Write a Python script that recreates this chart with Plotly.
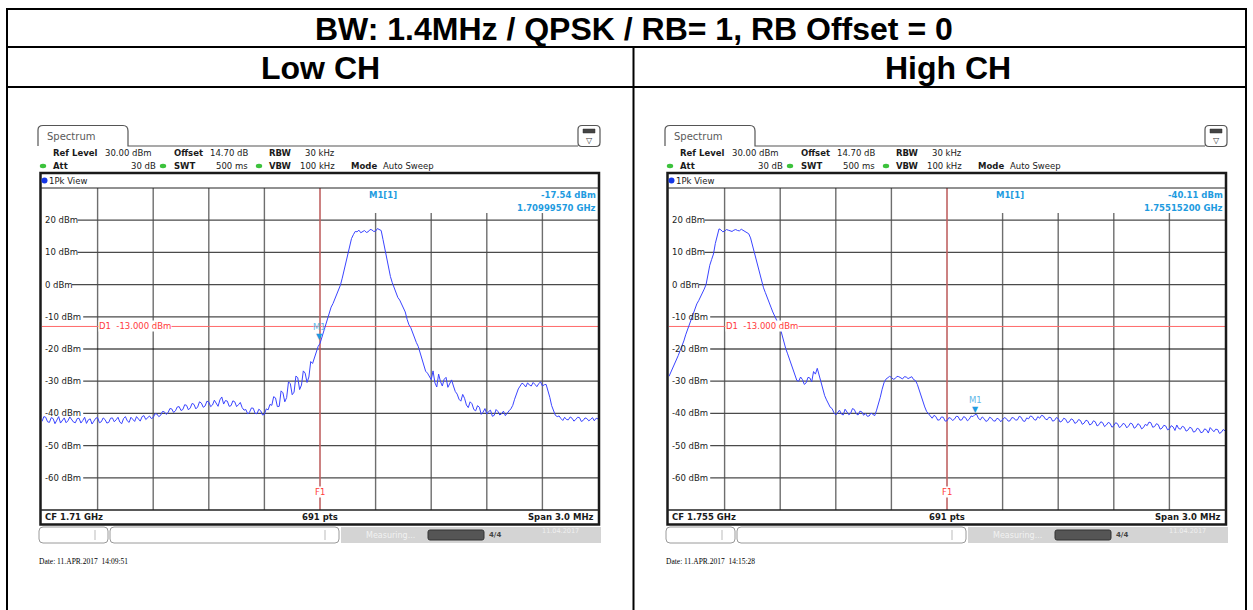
import numpy as np
import plotly.graph_objects as go

W, H = 1253, 610

# ---------------- data ----------------
table_title = "BW: 1.4MHz / QPSK / RB= 1, RB Offset = 0"
channel_titles = ["Low CH", "High CH"]

start_mhz = [1708.5, 1753.5]
stop_mhz = [1711.5, 1756.5]
top_level_dbm = 30
bottom_level_dbm = -70

low_dbm = [
    -42.5, -41.0, -41.2, -42.6, -42.8, -41.3, -41.6, -43.2, -42.1, -41.0,
    -43.0, -42.2, -41.4, -42.9, -42.3, -41.1, -41.8, -42.7, -42.9, -41.6,
    -41.5, -43.0, -42.2, -41.2, -43.1, -42.0, -41.7, -43.3, -42.4, -41.5,
    -41.3, -42.9, -42.6, -41.4, -41.9, -43.0, -42.8, -41.5, -41.4, -42.6,
    -42.0, -41.2, -42.7, -43.2, -41.6, -41.0, -42.3, -42.8, -41.2, -41.7,
    -42.5, -41.0, -41.8, -42.4, -41.0, -40.7, -41.9, -41.2,
    -40.8, -41.6, -41.3, -40.1, -40.2, -41.0, -40.6, -39.4, -39.5, -40.3,
    -39.8, -38.5, -38.6, -39.7, -39.2, -38.0, -37.9, -39.1, -38.8, -37.3,
    -37.5, -38.9, -38.3, -36.9, -37.2, -38.6, -38.0, -36.4, -36.8, -38.1,
    -37.7, -36.2, -36.5, -37.9, -37.4, -35.9, -36.9, -37.8,
    -35.8, -34.9, -37.1, -36.0, -36.2, -37.8, -37.6, -36.1, -36.4, -37.9,
    -37.3, -36.6, -38.2, -39.0,
    -38.8, -40.2, -39.6, -38.3, -38.4, -40.0, -40.1, -38.7, -39.2, -40.5,
    -40.3, -38.6, -38.9, -37.2,
    -37.5, -34.8, -35.2, -37.9, -37.8, -33.0, -33.6, -36.4,
    -35.1, -30.2, -30.8, -34.2, -33.4, -28.4, -28.9, -32.6, -31.2, -26.8,
    -27.5, -30.4, -28.7, -23.9,
    -24.5, -22.8, -21.6, -19.2, -18.3, -16.5,
    -14.5, -12.3, -10.5, -8.6, -7.0, -5.9, -4.5, -3.0, -2.0, -0.2,
    2.0, 4.5, 7.0, 10.0, 12.5, 14.3, 15.5, 16.5, 16.4, 16.9,
    16.1, 16.6, 16.8, 16.2, 16.4, 17.1, 17.0, 16.5, 16.6, 17.4,
    17.2, 16.8,
    14.0, 11.2, 8.0, 5.0, 2.5, 0.6, -1.0, -2.7, -4.0, -4.8,
    -6.0, -7.6, -8.5, -10.8, -12.5, -13.4, -15.0, -16.8, -18.0, -19.2,
    -21.0, -23.4, -25.0, -26.9, -27.5, -28.6, -29.5, -26.8, -30.5, -31.8,
    -27.8, -30.1, -31.5, -29.4, -28.8, -31.9, -30.8, -29.6, -31.5, -33.2,
    -34.0, -35.6, -36.2, -34.1, -35.3, -37.4, -38.2, -36.4, -37.0, -38.8,
    -39.2, -37.6, -38.1, -40.3, -39.6, -38.5, -40.2, -39.4, -39.0, -40.9,
    -40.6, -38.8, -39.4, -40.5, -40.1, -39.3, -40.7, -39.8, -39.2, -38.6,
    -37.5, -35.6, -34.0, -32.4, -31.5, -30.6, -31.0, -31.8, -30.5, -31.2,
    -31.5, -30.4, -31.0, -31.7, -30.8, -30.2, -31.5, -31.1, -31.0, -32.8,
    -35.0, -37.6, -39.5, -40.6, -41.0, -40.8, -41.6, -42.2, -41.2, -41.9,
    -42.0, -41.1, -41.5, -42.4, -41.9, -41.2, -41.3, -42.5, -42.2, -41.4,
    -41.6, -42.3, -41.9, -41.3, -42.3, -41.5, -41.7,
]

high_dbm = [
    -28.5, -27.3, -26.0, -24.6, -23.5, -22.0, -20.5, -19.2, -17.5, -15.6,
    -14.0, -12.4, -10.5, -9.1, -7.5, -6.0, -5.0, -3.9, -2.5, -1.4,
    0.0, 3.2,
    6.0, 7.8, 9.5, 12.8, 15.5, 17.3, 17.0, 16.4, 16.6, 17.1,
    16.9, 16.6, 16.5, 16.9, 17.1, 16.8, 16.7, 17.2, 16.9, 16.5,
    16.2, 15.8,
    14.5, 12.2, 10.0, 7.8, 5.5, 2.8, 0.5, -1.0, -2.5, -4.2,
    -5.5, -7.0, -8.5, -9.6, -11.0, -12.2, -13.5, -15.8, -18.0, -19.9,
    -21.5, -23.2, -25.0, -27.1, -28.5, -29.8,
    -30.0, -28.7, -29.5, -31.0, -30.5, -28.8, -29.0, -30.2, -27.0, -27.8,
    -26.0, -28.2, -30.5, -32.6, -34.5, -35.8, -37.0, -38.1, -38.5, -39.8,
    -40.5, -39.6,
    -39.0, -40.2, -40.5, -38.7, -39.5, -40.4, -40.0, -38.5, -38.8, -40.1,
    -40.5, -39.3, -39.5, -40.6, -40.0, -40.9, -40.8, -39.9, -40.3, -40.7,
    -39.0, -37.2,
    -35.0, -32.5, -30.5, -29.4, -29.0, -28.5, -28.8, -29.4, -29.2, -28.5,
    -28.6, -29.1, -29.3, -28.6, -28.7, -29.2, -29.0, -28.6, -29.5, -29.8,
    -31.0, -32.8, -35.0, -36.6, -38.0, -39.4, -40.0, -40.9,
    -41.5, -40.6, -41.0, -42.1, -42.0, -41.1, -41.2, -42.4, -42.3, -41.3,
    -41.5, -42.2, -41.8, -40.9, -41.0, -42.1, -42.0, -41.0, -41.3, -42.3,
    -41.8, -40.8, -41.0, -40.4, -40.3, -41.6, -42.0, -41.1, -41.6, -42.5,
    -42.2, -41.2, -41.5, -42.3, -42.4, -41.5, -41.8, -42.6, -42.0, -41.3,
    -41.6, -42.4, -42.3, -41.3, -41.4, -42.1, -42.0, -40.9, -41.2, -42.3,
    -42.5, -41.4, -41.7, -40.8, -41.0, -41.9, -42.1, -41.0, -41.5, -40.6,
    -40.8, -41.7, -42.0, -41.2, -41.3, -42.4, -42.2, -41.3, -41.6, -42.7,
    -42.4, -41.5, -41.8, -42.9, -42.6, -41.7, -42.0, -43.1, -42.8, -41.9,
    -42.2, -43.4, -43.0, -42.1, -42.4, -43.6, -43.3, -42.3, -42.6, -43.9,
    -43.5, -42.6, -42.9, -44.1, -43.6, -42.8, -43.1, -44.3, -43.8, -42.9,
    -43.2, -44.4, -44.0, -43.1, -43.4, -44.5, -43.9, -43.0, -43.3, -44.6,
    -44.2, -43.2, -43.6, -44.8, -44.4, -43.4, -43.8, -42.7, -42.9, -44.3,
    -44.1, -43.2, -43.5, -44.9, -44.6, -43.7, -43.9, -45.1, -44.8, -43.8,
    -44.2, -45.3, -43.6, -44.7, -44.9, -44.0, -44.3, -45.5, -45.2, -44.3,
    -44.6, -45.8, -45.6, -44.6, -44.9, -46.0, -45.8, -44.8, -45.1, -46.1,
    -44.4, -45.0, -45.7, -44.9, -45.0, -46.2, -45.9, -45.0, -45.4,
]
traces_dbm = [low_dbm, high_dbm]

marker_mhz = [1709.9957, 1755.152]
marker_dbm = [-17.54, -40.11]
marker_level_text = ["-17.54 dBm", "-40.11 dBm"]
marker_freq_text = ["1.70999570 GHz", "1.75515200 GHz"]
d1_dbm = -13.0
d1_text = "D1  -13.000 dBm"
f1_mhz = [1710.0, 1755.0]
cf_text = ["CF 1.71 GHz", "CF 1.755 GHz"]
pts_text = "691 pts"
span_text = "Span 3.0 MHz"
date_text = ["Date: 11.APR.2017  14:09:51", "Date: 11.APR.2017  14:15:28"]
level_ticks = [20, 10, 0, -10, -20, -30, -40, -50, -60]
level_tick_text = ["20 dBm", "10 dBm", "0 dBm", "-10 dBm", "-20 dBm",
                   "-30 dBm", "-40 dBm", "-50 dBm", "-60 dBm"]

# ---------------- helpers ----------------
def X(px):
    return px / W


def Y(py):
    return 1 - py / H


shapes, annots = [], []


def hline_px(x0, x1, y, color, width=1, layer="above"):
    shapes.append(dict(type="line", xref="paper", yref="paper", x0=X(x0), x1=X(x1),
                       y0=Y(y), y1=Y(y), line=dict(color=color, width=width), layer=layer))


def vline_px(x, y0, y1, color, width=1, layer="above"):
    shapes.append(dict(type="line", xref="paper", yref="paper", x0=X(x), x1=X(x),
                       y0=Y(y0), y1=Y(y1), line=dict(color=color, width=width), layer=layer))


def rect_px(x0, y0, x1, y1, color="#000", width=1, fill="rgba(0,0,0,0)", layer="above"):
    shapes.append(dict(type="rect", xref="paper", yref="paper", x0=X(x0), x1=X(x1),
                       y0=Y(y1), y1=Y(y0), line=dict(color=color, width=width),
                       fillcolor=fill, layer=layer))


def rrect_path(x0, y0, x1, y1, r):
    return (f"M {X(x0 + r)},{Y(y0)} L {X(x1 - r)},{Y(y0)} Q {X(x1)},{Y(y0)} {X(x1)},{Y(y0 + r)} "
            f"L {X(x1)},{Y(y1 - r)} Q {X(x1)},{Y(y1)} {X(x1 - r)},{Y(y1)} "
            f"L {X(x0 + r)},{Y(y1)} Q {X(x0)},{Y(y1)} {X(x0)},{Y(y1 - r)} "
            f"L {X(x0)},{Y(y0 + r)} Q {X(x0)},{Y(y0)} {X(x0 + r)},{Y(y0)} Z")


def rrect_px(x0, y0, x1, y1, r, color="#000", width=1, fill="rgba(0,0,0,0)"):
    shapes.append(dict(type="path", xref="paper", yref="paper", path=rrect_path(x0, y0, x1, y1, r),
                       line=dict(color=color, width=width), fillcolor=fill, layer="above"))


def dot_px(cx, cy, rx, ry, fill):
    shapes.append(dict(type="circle", xref="paper", yref="paper", x0=X(cx - rx), x1=X(cx + rx),
                       y0=Y(cy + ry), y1=Y(cy - ry), line=dict(width=0), fillcolor=fill, layer="above"))


def text_px(x, y, s, size=8.5, color="#1a1a1a", bold=False, anchor="left",
            family="DejaVu Sans", bg=None):
    a = dict(xref="paper", yref="paper", x=X(x), y=Y(y), text=f"<b>{s}</b>" if bold else s,
             showarrow=False, xanchor=anchor, yanchor="middle", borderpad=0,
             font=dict(size=size, color=color, family=family))
    if bg:
        a["bgcolor"] = bg
    annots.append(a)


# ---------------- table ----------------
TBL = "#000000"
hline_px(7, 1246, 9, TBL, 2)
hline_px(7, 1246, 47, TBL, 2)
hline_px(7, 1246, 87, TBL, 2)
vline_px(7, 8, 612, TBL, 2)
vline_px(1246, 8, 612, TBL, 2)
vline_px(633.5, 47, 612, TBL, 2)
text_px(634.5, 29, table_title, size=32, color="#000", bold=True, anchor="center",
        family="Liberation Sans")
text_px(320, 68, channel_titles[0], size=32, color="#000", bold=True, anchor="center",
        family="Liberation Sans")
text_px(948, 68, channel_titles[1], size=32, color="#000", bold=True, anchor="center",
        family="Liberation Sans")

# ---------------- spectrum panels ----------------
fig = go.Figure()
BLUE_TXT = "#1e9be0"
RED = "#ff6a6a"
GRID_V = "#6e6e6e"
GRID_H = "#4a4a4a"

for k in range(2):
    dx = 627 * k
    xa = "x" if k == 0 else "x2"
    ya = "y" if k == 0 else "y2"
    gx0, gx1, gy0, gy1 = 42 + dx, 598 + dx, 188, 510
    f0, f1 = start_mhz[k], stop_mhz[k]

    fig.update_layout(**{
        ("xaxis" if k == 0 else "xaxis2"): dict(domain=[X(gx0), X(gx1)], range=[f0, f1],
                                                 visible=False, fixedrange=True,
                                                 anchor=ya),
        ("yaxis" if k == 0 else "yaxis2"): dict(domain=[Y(gy1), Y(gy0)],
                                                 range=[bottom_level_dbm, top_level_dbm],
                                                 visible=False, fixedrange=True,
                                                 anchor=xa),
    })

    # tab + icon
    tab = (f"M {X(38 + dx)},{Y(146)} L {X(38 + dx)},{Y(130)} Q {X(38 + dx)},{Y(125.5)} {X(43 + dx)},{Y(125.5)} "
           f"L {X(123 + dx)},{Y(125.5)} Q {X(128 + dx)},{Y(125.5)} {X(128 + dx)},{Y(131)} "
           f"L {X(128 + dx)},{Y(146)} L {X(578 + dx)},{Y(146)}")
    shapes.append(dict(type="path", xref="paper", yref="paper", path=tab,
                       line=dict(color="#555", width=1.2), layer="above"))
    rrect_px(578 + dx, 125.5, 600 + dx, 146.5, 4, color="#555", width=1.2)
    rect_px(583 + dx, 129, 595 + dx, 133, color="#333", width=0.5, fill="#444")
    text_px(589 + dx, 140, "▽", size=8, color="#333", anchor="center")
    text_px(46 + dx, 136, "Spectrum", size=10, color="#5a5a5a")

    # header rows
    text_px(52 + dx, 153, "Ref Level", bold=True)
    text_px(104 + dx, 153, "30.00 dBm")
    text_px(173 + dx, 153, "Offset", bold=True)
    text_px(209 + dx, 153, "14.70 dB")
    text_px(268 + dx, 153, "RBW", bold=True)
    text_px(336 + dx, 153, "30 kHz", anchor="right")
    dot_px(43 + dx, 166, 3.2, 2.2, "#3cc23c")
    text_px(52 + dx, 166, "Att", bold=True)
    text_px(157 + dx, 166, "30 dB", anchor="right")
    dot_px(163 + dx, 166, 3.2, 2.2, "#3cc23c")
    text_px(173 + dx, 166, "SWT", bold=True)
    text_px(249 + dx, 166, "500 ms", anchor="right")
    dot_px(259 + dx, 166, 3.2, 2.2, "#3cc23c")
    text_px(268 + dx, 166, "VBW", bold=True)
    text_px(336 + dx, 166, "100 kHz", anchor="right")
    text_px(350 + dx, 166, "Mode", bold=True)
    text_px(382 + dx, 166, "Auto Sweep")

    # frame
    rect_px(40.5 + dx, 173, 599 + dx, 524.5, color="#1a1a1a", width=2.5)
    dot_px(44.5 + dx, 180.5, 3, 3, "#1536e6")
    text_px(48 + dx, 180.5, "1Pk View")
    hline_px(40 + dx, 599 + dx, 188, "#222", 1)
    hline_px(40 + dx, 599 + dx, 510, "#222", 1.5)
    text_px(44 + dx, 517, cf_text[k], bold=True)
    text_px(320 + dx, 517, pts_text, bold=True, anchor="center")
    text_px(595 + dx, 517, span_text, bold=True, anchor="right")

    # vertical gridlines
    for j in range(1, 10):
        f = f0 + j * (f1 - f0) / 10
        px = gx0 + j * (gx1 - gx0) / 10
        top = 213 if px > 322 + dx else 188
        shapes.append(dict(type="line", xref=xa, yref="paper", x0=f, x1=f, y0=Y(gy1), y1=Y(top),
                           line=dict(color=GRID_V, width=1.4), layer="between"))

    # horizontal gridlines + level labels
    for lv, lab in zip(level_ticks, level_tick_text):
        x_start = 44 + dx + 5.6 * len(lab)
        shapes.append(dict(type="line", xref="paper", yref=ya, x0=X(x_start), x1=X(gx1),
                           y0=lv, y1=lv, layer="between",
                           line=dict(color="#000" if lv == -20 else GRID_H, width=1.2)))
        annots.append(dict(xref="paper", yref=ya, x=X(44 + dx), y=lv, text=lab,
                           showarrow=False, xanchor="left", yanchor="middle", borderpad=0,
                           font=dict(size=8.5, color="#222", family="DejaVu Sans")))

    # display line D1 and frequency line F1
    shapes.append(dict(type="line", xref="paper", yref=ya, x0=X(gx0), x1=X(gx1),
                       y0=d1_dbm, y1=d1_dbm, line=dict(color=RED, width=1), layer="between"))
    annots.append(dict(xref="paper", yref=ya, x=X(98 + dx), y=d1_dbm, text=d1_text,
                       showarrow=False, xanchor="left", yanchor="middle", borderpad=0,
                       bgcolor="white", font=dict(size=8.5, color="#ff3b3b", family="DejaVu Sans")))
    shapes.append(dict(type="line", xref=xa, yref="paper", x0=f1_mhz[k], x1=f1_mhz[k],
                       y0=Y(gy1), y1=Y(gy0), line=dict(color=RED, width=1), layer="between"))
    annots.append(dict(xref=xa, yref=ya, x=f1_mhz[k], y=-64.5, text="F1",
                       showarrow=False, xanchor="center", yanchor="middle", borderpad=0,
                       bgcolor="white", font=dict(size=8.5, color="#ff3b3b", family="DejaVu Sans")))

    # trace
    trace = traces_dbm[k]
    fig.add_trace(go.Scatter(x=np.linspace(f0, f1, len(trace)), y=trace, mode="lines",
                             line=dict(color="#3a44ff", width=1), xaxis=xa, yaxis=ya,
                             hoverinfo="skip"))

    # marker M1
    annots.append(dict(xref=xa, yref=ya, x=marker_mhz[k], y=marker_dbm[k], text="▼",
                       showarrow=False, xanchor="center", yanchor="bottom", yshift=-1,
                       borderpad=0, font=dict(size=8, color=BLUE_TXT, family="DejaVu Sans")))
    annots.append(dict(xref=xa, yref=ya, x=marker_mhz[k], y=marker_dbm[k], text="M1",
                       showarrow=False, xanchor="center", yanchor="bottom", yshift=8,
                       borderpad=0, font=dict(size=8.5, color="#5fb8e8", family="DejaVu Sans")))
    text_px(368 + dx, 195, "M1[1]", bold=True, color=BLUE_TXT)
    text_px(597 + dx, 195, marker_level_text[k], bold=True, color=BLUE_TXT, anchor="right")
    text_px(597 + dx, 207.5, marker_freq_text[k], bold=True, color=BLUE_TXT, anchor="right")

    # status bar
    rrect_px(39 + dx, 527, 108 + dx, 543, 4, color="#9a9a9a", width=1)
    vline_px(95 + dx, 530, 540, "#bbb", 1)
    rrect_px(110 + dx, 527, 339 + dx, 543, 4, color="#9a9a9a", width=1)
    vline_px(325 + dx, 530, 540, "#bbb", 1)
    rect_px(341 + dx, 527, 601 + dx, 543, color="rgba(0,0,0,0)", width=0, fill="#d4d4d4")
    text_px(365 + dx, 535, "Measuring...", size=8, color="#f2f2f2")
    rrect_px(428 + dx, 530, 484 + dx, 540, 2, color="#333", width=1, fill="#555")
    text_px(488 + dx, 535, "<b>4/4</b>", size=7, color="#444")
    text_px(560 + dx, 531, "11.04.2017", size=6.5, color="#f0f0f0", anchor="center")

    # date line
    text_px(38 + dx, 561, date_text[k], size=7.5, color="#000", family="Liberation Serif")

fig.update_layout(
    width=W, height=H, autosize=False,
    margin=dict(l=0, r=0, t=0, b=0),
    paper_bgcolor="white", plot_bgcolor="rgba(0,0,0,0)",
    showlegend=False,
    shapes=shapes, annotations=annots,
)
fig.write_html("out.html",
               config={"displayModeBar": False},
               post_script="document.body.style.margin='0';document.body.style.overflow='hidden';")
